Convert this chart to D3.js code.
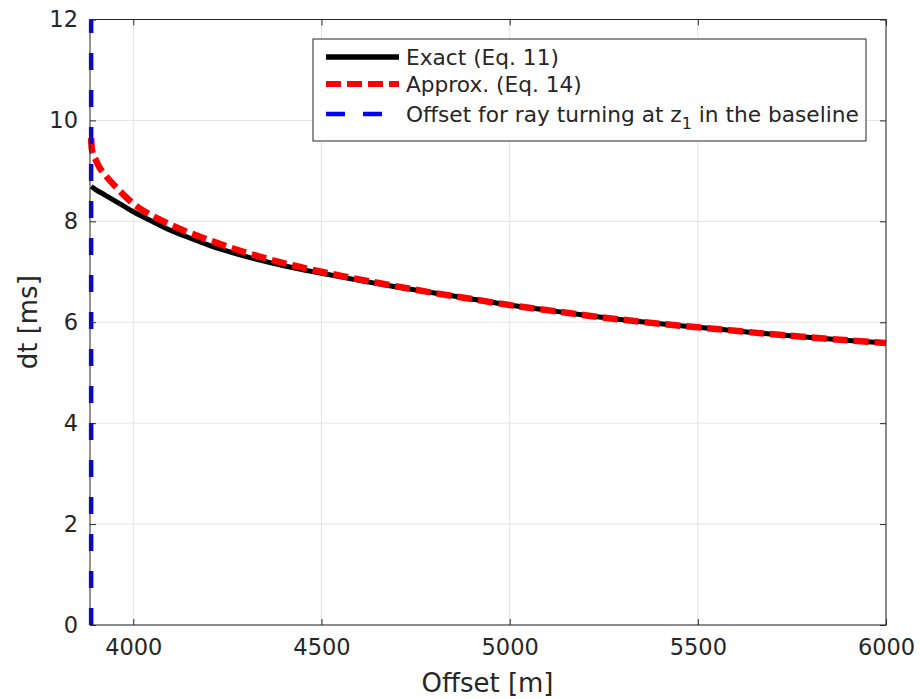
<!DOCTYPE html>
<html>
<head>
<meta charset="utf-8">
<script src="https://cdn.jsdelivr.net/npm/d3@7"></script>
<style>
  html, body { margin: 0; padding: 0; background: #fff; }
  svg { display: block; font-family: "DejaVu Sans", sans-serif; }
</style>
</head>
<body>
<svg id="chart" width="920" height="699"></svg>
<script>
// ---- data ----
const exactOffset = [3888, 3900, 3925, 3950, 3975, 4000, 4050, 4100, 4150, 4200, 4250, 4300, 4400, 4500,
  4600, 4700, 4800, 4900, 5000, 5100, 5200, 5300, 5400, 5500, 5600, 5700, 5800, 5900, 6000];
const exactDt = [8.69, 8.63, 8.52, 8.41, 8.30, 8.19, 8.00, 7.82, 7.67, 7.53, 7.41, 7.30, 7.12, 6.97,
  6.83, 6.70, 6.58, 6.46, 6.34, 6.24, 6.14, 6.05, 5.97, 5.90, 5.83, 5.76, 5.70, 5.64, 5.59];
const approxOffset = [3888, 3890, 3900, 3910, 3925, 3950, 3975, 4000, 4050, 4100, 4150, 4200, 4300, 4400, 4500,
  4600, 4700, 4800, 4900, 5000, 5100, 5200, 5300, 5400, 5500, 5600, 5700, 5800, 5900, 6000];
const approxDt = [9.65, 9.42, 9.22, 9.07, 8.92, 8.71, 8.52, 8.35, 8.11, 7.93, 7.77, 7.63, 7.38, 7.17, 7.00,
  6.85, 6.71, 6.58, 6.46, 6.34, 6.24, 6.14, 6.05, 5.97, 5.90, 5.83, 5.76, 5.70, 5.64, 5.59];
const baselineOffset = 3888;
const baselineDt = [0, 12];
const xTicks = [4000, 4500, 5000, 5500, 6000];
const yTicks = [0, 2, 4, 6, 8, 10, 12];
const xDomain = [3885, 6000];
const yDomain = [0, 12];
const legendLabels = ["Exact (Eq. 11)", "Approx. (Eq. 14)", "Offset for ray turning at z"];

// ---- layout ----
const L = 90, R = 886, T = 19.5, B = 625;
const axisColor = "#262626";
const svg = d3.select("#chart");
const x = d3.scaleLinear().domain(xDomain).range([L, R]);
const y = d3.scaleLinear().domain(yDomain).range([B, T]);

// grid
const grid = svg.append("g");
grid.selectAll("line.gx").data(xTicks).join("line")
  .attr("x1", d => x(d)).attr("x2", d => x(d)).attr("y1", T).attr("y2", B)
  .attr("stroke", "#e3e3e3").attr("stroke-width", 1);
grid.selectAll("line.gy").data(yTicks).join("line")
  .attr("x1", L).attr("x2", R).attr("y1", d => y(d)).attr("y2", d => y(d))
  .attr("stroke", "#e3e3e3").attr("stroke-width", 1);

// axes (ticks inward)
const fs = 22.5;
const fmt = d3.format("d");
const xAxis = d3.axisBottom(x).tickValues(xTicks).tickFormat(fmt).tickSizeInner(-6).tickSizeOuter(0).tickPadding(14);
const yAxis = d3.axisLeft(y).tickValues(yTicks).tickFormat(fmt).tickSizeInner(-6).tickSizeOuter(0).tickPadding(12);
const gx = svg.append("g").attr("transform", `translate(0,${B})`).call(xAxis);
const gy = svg.append("g").attr("transform", `translate(${L},0)`).call(yAxis);
const gxTop = svg.append("g").attr("transform", `translate(0,${T})`)
  .call(d3.axisTop(x).tickValues(xTicks).tickSizeInner(-6).tickSizeOuter(0).tickFormat(""));
const gyRight = svg.append("g").attr("transform", `translate(${R},0)`)
  .call(d3.axisRight(y).tickValues(yTicks).tickSizeInner(-6).tickSizeOuter(0).tickFormat(""));
[gx, gy, gxTop, gyRight].forEach(g => {
  g.select(".domain").remove();
  g.selectAll("line").attr("stroke", axisColor);
  g.selectAll("text").attr("fill", axisColor).style("font-size", fs + "px").style("font-family", "DejaVu Sans");
});
gx.selectAll("text").attr("dy", "0.72em");

// data clip
svg.append("clipPath").attr("id", "clip").append("rect")
  .attr("x", L - 4).attr("y", T - 4).attr("width", R - L + 8).attr("height", B - T + 8);
const plot = svg.append("g").attr("clip-path", "url(#clip)");

const line = d3.line().x(d => x(d[0])).y(d => y(d[1])).curve(d3.curveMonotoneX);

// exact
plot.append("path").datum(exactOffset.map((o, i) => [o, exactDt[i]]))
  .attr("d", line).attr("fill", "none").attr("stroke", "#000").attr("stroke-width", 5)
  .attr("stroke-linejoin", "round");
// approx
plot.append("path").datum(approxOffset.map((o, i) => [o, approxDt[i]]))
  .attr("d", line).attr("fill", "none").attr("stroke", "#ff0000").attr("stroke-width", 6.5)
  .attr("stroke-dasharray", "15,6");
// baseline vertical
plot.append("line")
  .attr("x1", x(baselineOffset)).attr("x2", x(baselineOffset))
  .attr("y1", y(baselineDt[0])).attr("y2", y(baselineDt[1]))
  .attr("stroke", "#0000ff").attr("stroke-width", 4.5).attr("stroke-dasharray", "17,20");

// box
svg.append("rect").attr("x", L).attr("y", T).attr("width", R - L).attr("height", B - T)
  .attr("fill", "none").attr("stroke", axisColor).attr("stroke-width", 1);

// axis labels
svg.append("text").attr("x", (L + R) / 2 - 0.5).attr("y", 692).attr("text-anchor", "middle")
  .attr("fill", axisColor).style("font-size", "26px").text("Offset [m]");
svg.append("text").attr("transform", `translate(37,${(T + B) / 2}) rotate(-90)`)
  .attr("text-anchor", "middle").attr("fill", axisColor).style("font-size", "26px").text("dt [ms]");

// legend
const lg = svg.append("g");
const lx = 313, ly = 39, lw = 553, lh = 102;
lg.append("rect").attr("x", lx).attr("y", ly).attr("width", lw).attr("height", lh)
  .attr("fill", "#fff").attr("stroke", axisColor).attr("stroke-width", 1);
const rows = [
  {label: legendLabels[0], color: "#000", dash: null, w: 5.5},
  {label: legendLabels[1], color: "#ff0000", dash: "15,6", w: 6},
  {label: legendLabels[2], color: "#0000ff", dash: "19,18", w: 4.5, sub: "1", rest: " in the baseline"}
];
const rowY = [57, 84, 114];
rows.forEach((r, i) => {
  lg.append("line").attr("x1", 326).attr("x2", 399).attr("y1", rowY[i]).attr("y2", rowY[i])
    .attr("stroke", r.color).attr("stroke-width", r.w).attr("stroke-dasharray", r.dash);
  const t = lg.append("text").attr("x", 406).attr("y", rowY[i]).attr("dy", "0.35em")
    .attr("fill", axisColor).style("font-size", "21.7px");
  t.append("tspan").text(r.label);
  if (r.sub) {
    t.append("tspan").attr("dy", "7").style("font-size", "16px").text(r.sub);
    t.append("tspan").attr("dy", "-7").text(r.rest);
  }
});
</script>
</body>
</html>
